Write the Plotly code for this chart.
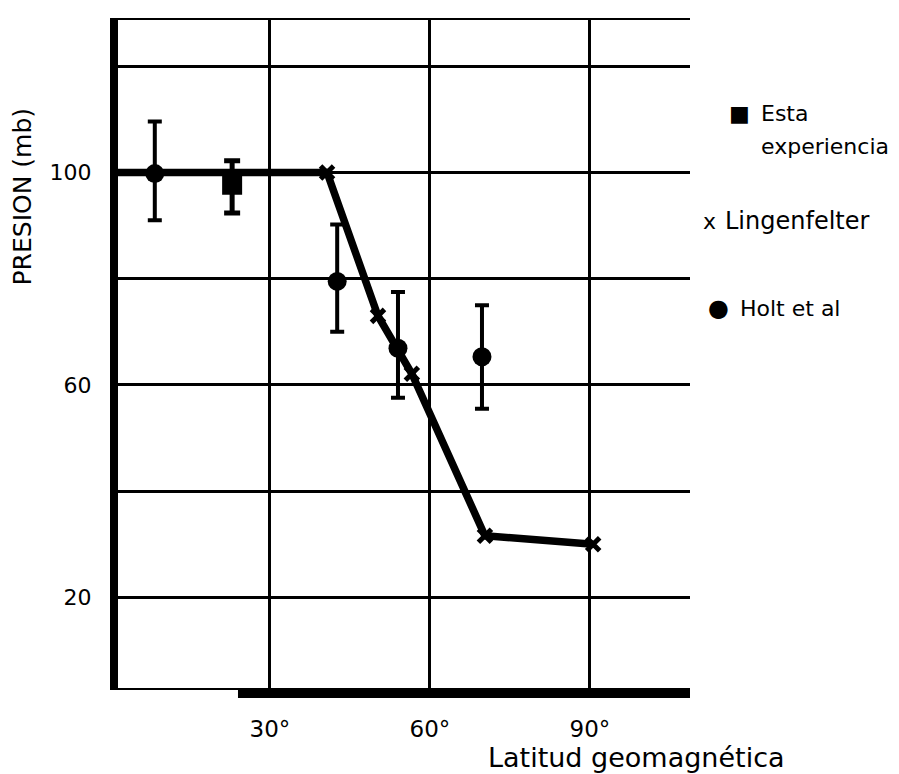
import plotly.graph_objects as go

# ---- data ----
ling_lat = [0, 40.7, 50.25, 56.6, 70.3, 90.6]
ling_p = [100, 100, 73.0, 62.1, 31.6, 30.0]

holt_lat = [8.4, 42.6, 54.0, 69.75]
holt_p = [99.8, 79.5, 66.9, 65.3]
holt_err_plus = [9.8, 10.7, 10.6, 9.7]
holt_err_minus = [8.8, 9.5, 9.3, 9.8]

esta_lat = [22.9]
esta_p = [97.7]
esta_err_plus = [4.5]
esta_err_minus = [5.3]

x_tickvals = [30, 60, 90]
x_ticktext = ["30°", "60°", "90°"]
y_tickvals = [20, 40, 60, 80, 100, 120]
y_ticktext = ["20", "", "60", "", "100", ""]

FONT = "DejaVu Sans"
OFF = 8  # page body margin
W, H = 899 - OFF, 774 - OFF
# plot box in reference-page pixels
BOX_L, BOX_R, BOX_T, BOX_B = 118, 690, 18, 688
L, T = BOX_L - OFF, BOX_T - OFF
R, B = W - (BOX_R - OFF), H - (BOX_B - OFF)
PW, PH = W - L - R, H - T - B


def px(x):
    return (x - BOX_L) / PW


def py(y):
    return (BOX_B - y) / PH


fig = go.Figure()

fig.add_trace(go.Scatter(
    x=ling_lat, y=ling_p, mode="lines",
    line=dict(color="black", width=7.5),
    showlegend=False, hoverinfo="skip",
))
fig.add_trace(go.Scatter(
    x=ling_lat[1:], y=ling_p[1:], mode="markers",
    marker=dict(symbol="x-thin", size=13, color="black",
                line=dict(color="black", width=5)),
    showlegend=False,
))

fig.add_trace(go.Scatter(
    x=holt_lat, y=holt_p, mode="markers",
    marker=dict(symbol="circle", size=19, color="black"),
    error_y=dict(type="data", array=holt_err_plus, arrayminus=holt_err_minus,
                 color="black", thickness=4, width=7),
    showlegend=False,
))

fig.add_trace(go.Scatter(
    x=esta_lat, y=esta_p, mode="markers",
    marker=dict(symbol="square", size=20, color="black"),
    error_y=dict(type="data", array=esta_err_plus, arrayminus=esta_err_minus,
                 color="black", thickness=5, width=8),
    showlegend=False,
))

x_lo = (BOX_L - 110) / 5.333
x_hi = (BOX_R - 110) / 5.333
y_lo = 100 - (BOX_B - 171) / 5.325
y_hi = 100 + (171 - BOX_T) / 5.325

fig.update_layout(
    width=W, height=H,
    margin=dict(l=L, r=R, t=T, b=B, pad=0),
    paper_bgcolor="white", plot_bgcolor="white",
    font=dict(family=FONT, color="black"),
    xaxis=dict(
        range=[x_lo, x_hi], tickvals=x_tickvals, ticktext=x_ticktext,
        showgrid=True, gridcolor="black", gridwidth=3,
        showline=True, linecolor="black", linewidth=2, mirror=True,
        ticks="", ticklabelstandoff=19, zeroline=False,
        tickfont=dict(size=23, family=FONT, color="black"),
    ),
    yaxis=dict(
        range=[y_lo, y_hi], tickvals=y_tickvals, ticktext=y_ticktext,
        showgrid=True, gridcolor="black", gridwidth=2.5,
        showline=True, linecolor="black", linewidth=8,
        ticks="", ticklabelstandoff=14, zeroline=False,
        tickfont=dict(size=22, family=FONT, color="black"),
    ),
)

# thick part of the bottom axis
fig.add_shape(type="line", xref="x", yref="paper",
              x0=24, x1=x_hi, y0=-5 / PH, y1=-5 / PH,
              line=dict(color="black", width=10))

def note(text, x, y, size, xanchor="left", angle=0):
    return dict(text=text, x=px(x), y=py(y), xref="paper", yref="paper",
                textangle=angle, showarrow=False, xanchor=xanchor, yanchor="middle",
                font=dict(size=size, family=FONT, color="black"))

ann = [
    note("PRESION (mb)", 22, 195, 25, "center", -90),
    note("Latitud geomagnética", 636, 758, 27, "center"),
    note("■", 727, 112, 22),
    note("Esta", 759, 112, 22),
    note("experiencia", 759, 145, 22),
    note("x", 701, 220, 22),
    note("Lingenfelter", 723, 220, 24),
    note("●", 706, 307, 24),
    note("Holt et al", 738, 307, 22),
]
fig.update_layout(annotations=ann)

fig.write_html("out.html")
